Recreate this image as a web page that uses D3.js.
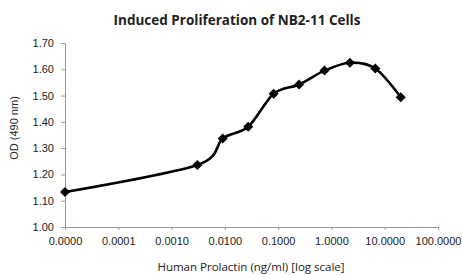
<!DOCTYPE html>
<html>
<head>
<meta charset="utf-8">
<script src="https://cdnjs.cloudflare.com/ajax/libs/d3/7.8.5/d3.min.js"></script>
<style>
  body { margin: 0; background: #fff; }
  svg text { fill: #222; }
</style>
</head>
<body>
<div id="chart"></div>
<script>
// concentrations (ng/ml); the zero dose is plotted at the 0.00001 end of the log axis
var concentration = [0.00001, 0.00305, 0.00914, 0.0274, 0.0823, 0.247, 0.741, 2.22, 6.67, 20];
var od = [1.133, 1.236, 1.337, 1.381, 1.507, 1.542, 1.595, 1.625, 1.603, 1.494];
var xTicks = [0.00001, 0.0001, 0.001, 0.01, 0.1, 1, 10, 100];
var yTicks = [1.0, 1.1, 1.2, 1.3, 1.4, 1.5, 1.6, 1.7];

var svgWidth = 462;
var svgHeight = 275;
var margin = { top: 43, right: 24, bottom: 48, left: 65 };
var width = svgWidth - margin.left - margin.right;
var height = svgHeight - margin.top - margin.bottom;

var svg = d3.select("#chart")
  .append("svg")
  .attr("width", svgWidth)
  .attr("height", svgHeight);

var chartGroup = svg.append("g")
  .attr("transform", `translate(${margin.left}, ${margin.top})`);

var xScale = d3.scaleLog().domain([0.00001, 100]).range([0, width]);
var yScale = d3.scaleLinear().domain([1.0, 1.7]).range([height, 0]);

var bottomAxis = d3.axisBottom(xScale)
  .tickValues(xTicks)
  .tickFormat(d3.format(".4f"))
  .tickSizeInner(3).tickSizeOuter(0).tickPadding(7);
var leftAxis = d3.axisLeft(yScale)
  .tickValues(yTicks)
  .tickFormat(d3.format(".2f"))
  .tickSizeInner(4).tickSizeOuter(0).tickPadding(7);

var xg = chartGroup.append("g")
  .attr("transform", `translate(0, ${height})`)
  .call(bottomAxis);
var yg = chartGroup.append("g").call(leftAxis);

[xg, yg].forEach(function(g) {
  g.selectAll("path, line").attr("stroke", "#999");
  g.selectAll("text")
    .style("font-family", "'Liberation Sans', Arial, sans-serif")
    .style("font-size", "11px")
    .attr("fill", "#222");
});

// smoothed line
var line = d3.line()
  .x(function(d, i) { return xScale(concentration[i]); })
  .y(function(d) { return yScale(d); })
  .curve(d3.curveCardinal.tension(0.1));

chartGroup.append("path")
  .datum(od)
  .attr("d", line)
  .attr("fill", "none")
  .attr("stroke", "#000")
  .attr("stroke-width", 2.6);

// diamond markers
chartGroup.selectAll(".marker")
  .data(od)
  .enter().append("path")
  .attr("class", "marker")
  .attr("d", d3.symbol().type(d3.symbolDiamond2).size(64))
  .attr("transform", function(d, i) {
    return `translate(${xScale(concentration[i])}, ${yScale(d)})`;
  })
  .attr("fill", "#000");

// title
svg.append("text")
  .attr("x", 237)
  .attr("y", 25)
  .attr("text-anchor", "middle")
  .style("font-family", "'Open Sans', sans-serif")
  .style("font-weight", "bold")
  .style("font-size", "13.5px")
  .text("Induced Proliferation of NB2-11 Cells");

// y-axis label
svg.append("text")
  .attr("transform", "translate(18, 128) rotate(-90)")
  .attr("text-anchor", "middle")
  .style("font-family", "'Liberation Sans', Arial, sans-serif")
  .style("font-size", "11px")
  .text("OD (490 nm)");

// x-axis label
svg.append("text")
  .attr("x", 251)
  .attr("y", 271)
  .attr("text-anchor", "middle")
  .style("font-family", "'Open Sans', sans-serif")
  .style("font-size", "11.5px")
  .text("Human Prolactin (ng/ml) [log scale]");
</script>
</body>
</html>
